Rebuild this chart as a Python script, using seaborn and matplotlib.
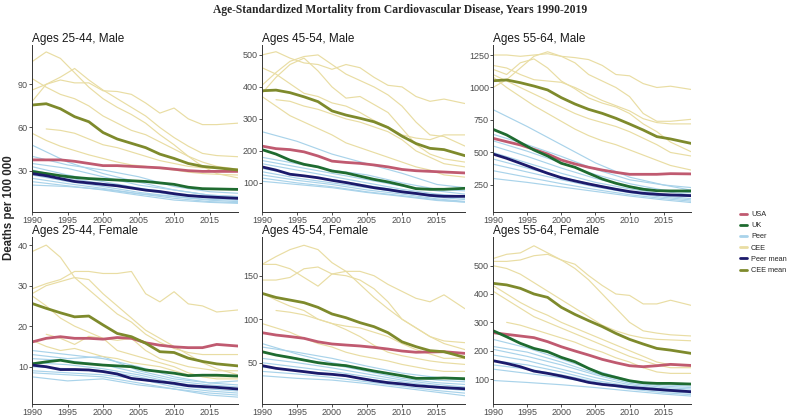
import numpy as np
import pandas as pd
import matplotlib
matplotlib.use("Agg")
import matplotlib.pyplot as plt
from matplotlib.lines import Line2D
import seaborn as sns

# ---------------- data ----------------
YRS = [1990, 1992, 1994, 1996, 1998, 2000, 2002, 2004, 2006, 2008, 2010, 2012, 2014, 2016, 2019]
YRS_P = [1990, 1995, 2000, 2005, 2010, 2015, 2019]
NA = np.nan

PANEL_TITLES = ["Ages 25-44, Male", "Ages 45-54, Male", "Ages 55-64, Male",
                "Ages 25-44, Female", "Ages 45-54, Female", "Ages 55-64, Female"]
X_TICKS = [1990, 1995, 2000, 2005, 2010, 2015]
Y_TICKS = [[30, 60, 90], [100, 200, 300, 400, 500], [250, 500, 750, 1000, 1250],
           [10, 20, 30, 40], [50, 100, 150], [100, 200, 300, 400, 500]]
SERIES_NAMES = ["USA", "UK", "Peer", "CEE", "Peer mean", "CEE mean"]

# Ages 25-44, Male
m2544_usa = [37.5, 37.5, 37.5, 36.5, 35, 33.5, 33.5, 33, 32.5, 32, 31, 30, 29.5, 29.5, 29.5]
m2544_uk = [29.5, 28, 26.5, 25.3, 24.5, 24, 23.5, 23, 22.5, 21.5, 20.5, 18.5, 17.5, 17.3, 17]
m2544_peer_mean = [28, 26.5, 24.5, 22.5, 21.5, 20.5, 19.5, 18, 16.5, 15.5, 14, 12.7, 12, 11.5, 10.8]
m2544_cee_mean = [75.6, 76.5, 73, 67.5, 64, 56.5, 52, 49, 46, 41.5, 38.5, 35, 33, 32, 30.5]
m2544_cee = [
    [105.7, 112.5, 108, 98, 88, 80, 74, 69, 63, 55, 48, 40, 33, 28, 25],
    [94, 88, 83, 80, 75, 68, 63, 58, 55, 50, 45, 40, 36, 33, 31],
    [86, 90, 95, 101, 93, 86, 80, 74, 68, 60, 53, 47, 42, 40.5, 39.7],
    [78, 90, 93, 91, 91, 85.5, 85, 83, 77, 70, 73.5, 66, 62, 62, 63],
    [NA, 59, 58, 56, 52, 48, 46, 43, 40, 37, 35, 33, 32, 31.5, 31],
    [56, 51, 47, 44, 41, 38.5, 36, 34, 33, 31.5, 30.5, 29, 28, 27.5, 27],
]
m2544_peer = [
    [47.8, 36, 28, 22, 16.6, 13, 12],
    [40, 34, 30.5, 25.8, 19, 15.4, 14.3],
    [35, 31.6, 25.8, 20, 16.6, 13, 12],
    [32.8, 27, 22.4, 18, 14.3, 12, 10.8],
    [30.5, 25, 21, 17, 13, 11, 9.6],
    [27, 22.5, 19, 15, 12, 9.5, 8.5],
    [24.7, 21, 17.7, 14, 10.8, 8.5, 7.8],
    [22.4, 19.5, 16.6, 13, 9.6, 8, 7.3],
    [20, 19, 17, 14, 12, 10, 9.6],
]

# Ages 45-54, Male
m4554_usa = [215, 207, 204, 197, 184, 168, 164, 161, 156, 150, 142, 138, 136, 134, 131]
m4554_uk = [204, 190, 171, 158, 150, 137, 131, 121, 111, 103, 93, 82, 80, 80, 83]
m4554_peer_mean = [150, 140, 127, 122, 116, 108, 101, 93, 85, 79, 72, 67, 61, 58, 58]
m4554_cee_mean = [388, 390, 382, 369, 354, 325, 312, 302, 291, 273, 246, 223, 208, 204, 185]
m4554_cee = [
    [500, 510, 490, 475, 470, 455, 470, 460, 430, 405, 400, 370, 355, 362, 348],
    [405, 445, 480, 495, 500, 470, 440, 420, 400, 375, 340, 290, 250, 245, 215],
    [460, 440, 410, 380, 370, 350, 340, 320, 295, 275, 250, 240, 235, 250, 250],
    [380, 430, 470, 490, 450, 400, 365, 370, 345, 320, 270, 220, 190, 175, 165],
    [NA, 360, 355, 340, 330, 315, 300, 290, 275, 260, 235, 200, 180, 160, 150],
    [370, 340, 310, 290, 270, 250, 225, 210, 195, 180, 165, 150, 140, 125, 118],
]
m4554_peer = [
    [260, 230, 190, 160, 130, 95, 85],
    [180, 160, 140, 125, 100, 80, 75],
    [170, 150, 130, 110, 90, 75, 65],
    [160, 140, 120, 100, 80, 65, 58],
    [145, 125, 110, 92, 75, 60, 52],
    [135, 115, 100, 85, 70, 55, 48],
    [125, 108, 95, 78, 65, 50, 42],
    [115, 100, 88, 72, 60, 47, 40],
    [105, 95, 85, 70, 58, 45, 40],
]

# Ages 55-64, Male
m5564_usa = [609, 583, 558, 524, 488, 442, 412, 386, 365, 347, 332, 332, 332, 337, 335]
m5564_uk = [678, 635, 576, 519, 473, 417, 386, 340, 296, 263, 237, 217, 206, 204, 204]
m5564_peer_mean = [488, 455, 417, 378, 340, 306, 281, 258, 237, 217, 199, 186, 178, 173, 168]
m5564_cee_mean = [1052, 1058, 1037, 1011, 981, 922, 873, 832, 801, 763, 719, 673, 622, 604, 570]
m5564_cee = [
    [1250, 1250, 1240, 1250, 1260, 1240, 1230, 1215, 1170, 1100, 1090, 1030, 1000, 1010, 985],
    [1000, 1060, 1150, 1240, 1275, 1240, 1190, 1100, 1050, 1000, 930, 800, 740, 740, 755],
    [1170, 1150, 1100, 1060, 1050, 1040, 1000, 950, 900, 860, 820, 760, 730, 720, 720],
    [1140, 1100, 1190, 1220, 1150, 1050, 990, 920, 880, 850, 800, 720, 660, 580, 506],
    [1100, 1050, 1000, 950, 900, 850, 800, 760, 730, 700, 660, 610, 560, 500, 473],
    [1080, 1000, 930, 860, 800, 740, 680, 630, 590, 560, 520, 480, 440, 400, 365],
]
m5564_peer = [
    [830, 700, 560, 420, 310, 250, 230],
    [640, 560, 470, 370, 290, 250, 210],
    [590, 510, 420, 330, 260, 210, 190],
    [550, 470, 380, 300, 240, 200, 175],
    [500, 420, 340, 270, 220, 180, 160],
    [450, 380, 310, 250, 200, 165, 145],
    [410, 350, 290, 235, 190, 155, 135],
    [360, 310, 260, 215, 175, 145, 125],
    [300, 270, 235, 200, 165, 135, 115],
]

# Ages 25-44, Female
f2544_usa = [16.1, 17, 17.4, 17, 17, 16.8, 17.2, 17, 15.9, 15.3, 14.9, 14.7, 14.7, 15.5, 15.1]
f2544_uk = [10.7, 11.2, 11.6, 11, 10.7, 10.4, 10.2, 10, 9.2, 8.8, 8.4, 7.8, 7.9, 7.9, 7.7]
f2544_peer_mean = [10.4, 10, 9.3, 9.3, 9.2, 8.8, 8.2, 7.1, 6.7, 6.3, 5.9, 5.3, 5.1, 4.9, 4.5]
f2544_cee_mean = [25.6, 24.4, 23.3, 22.3, 22.5, 20.3, 18.2, 17.4, 15.8, 13.7, 13.5, 12.1, 11.3, 10.7, 10.2]
f2544_cee = [
    [38.4, 40, 37, 32, 29, 26, 23, 21, 18, 16, 14.5, 13.5, 13, 13, 13],
    [29.2, 30.5, 31.5, 33.5, 33.5, 33, 33, 33.5, 28, 26, 28.5, 25.5, 25, 23.5, 24],
    [28, 30, 31, 32, 31.5, 28, 25, 22, 19, 17, 15, 13, 11, 9.5, 8],
    [27.5, 25, 22, 20, 18.5, 17, 16.5, 17, 14, 12, 11, 10, 9.5, 9, 9],
    [NA, 18, 17, 15.5, 17.5, 17, 14, 13, 12, 11, 10, 8.5, 7.5, 7, 7],
    [16.5, 15, 14, 14.5, 13.5, 12.5, 12, 11, 10.5, 10, 9, 8, 8, 7.5, 7.5],
]
f2544_peer = [
    [14, 13, 12, 10, 7.5, 6, 5.5],
    [13, 12, 12.5, 9, 7, 6, 6.5],
    [12, 11.5, 10.5, 8.5, 6.5, 5.5, 5],
    [11, 10.5, 9.5, 8, 6, 5, 4.5],
    [10, 9.5, 9, 7.5, 5.5, 4.5, 4],
    [9, 8.5, 8, 7, 5, 4, 3.5],
    [8.5, 8, 7.5, 6, 4.5, 3.5, 3],
    [7.5, 6.5, 7, 5.5, 4.5, 3, 2.5],
]

# Ages 45-54, Female
f4554_usa = [84.5, 81.8, 80, 78, 74, 71.5, 70.3, 69.2, 67.6, 65.7, 63.4, 62, 62.3, 62.6, 60.7]
f4554_uk = [62.6, 58.8, 56, 53, 50, 48, 46.6, 43.5, 40.4, 37.7, 35, 32, 32, 32.4, 31.6]
f4554_peer_mean = [46.6, 43.5, 41.6, 39.7, 37.7, 36.6, 35, 32, 29.3, 27, 25.5, 23.6, 22.4, 21.3, 20]
f4554_cee_mean = [129.7, 125, 122, 119, 113.6, 106, 101.7, 96, 91.4, 84.5, 74, 68.4, 63.8, 62.6, 56]
f4554_cee = [
    [163, 172, 180, 185, 180, 165, 155, 140, 125, 112, 100, 90, 80, 72, 65],
    [163, 163, 158, 148, 138, 152, 155, 155, 150, 140, 132, 124, 120, 128, 112],
    [145, 145, 148, 158, 160, 152, 150, 145, 135, 120, 100, 90, 80, 75, 73],
    [NA, 110, 108, 105, 100, 95, 92, 90, 85, 80, 72, 65, 60, 55, 55],
    [130, 122, 115, 110, 100, 95, 88, 80, 70, 62, 58, 55, 52, 50, 48],
    [95, 90, 85, 78, 72, 68, 62, 58, 55, 52, 48, 45, 42, 40, 40],
]
f4554_peer = [
    [72, 60, 50, 42, 35, 30, 28],
    [68, 62, 55, 46, 38, 33, 30],
    [62, 55, 48, 40, 32, 27, 25],
    [55, 50, 44, 37, 30, 25, 22],
    [50, 45, 40, 34, 28, 23, 20],
    [45, 41, 37, 31, 26, 21, 18],
    [40, 37, 33, 28, 23, 18, 15],
    [35, 32, 30, 26, 21, 16, 12],
]

# Ages 55-64, Female
f5564_usa = [263.5, 257.6, 251.8, 246, 231.8, 214, 199, 184.7, 169.4, 157.6, 147, 143.5, 147, 151.8, 148]
f5564_uk = [270.6, 249, 226, 208, 196.5, 176.5, 161, 137.6, 117.6, 105.9, 94, 87, 84.7, 84.7, 82.4]
f5564_peer_mean = [164.7, 155, 143.5, 128, 120, 110.6, 100, 88.2, 81, 76.5, 70.6, 67, 63.5, 60, 55.3]
f5564_cee_mean = [437.6, 432, 420, 400, 388, 353, 328, 306, 285, 261, 240, 223.5, 208, 202, 190.6]
f5564_cee = [
    [525, 540, 545, 570, 545, 520, 505, 465, 430, 400, 395, 365, 365, 378, 360],
    [515, 515, 520, 535, 540, 520, 490, 450, 400, 350, 300, 270, 262, 256, 252],
    [500, 490, 470, 440, 410, 380, 350, 320, 290, 270, 255, 245, 240, 238, 235],
    [430, 400, 370, 345, 325, 300, 280, 260, 240, 220, 200, 180, 160, 150, 145],
    [410, 380, 350, 320, 300, 280, 260, 240, 220, 200, 180, 165, 150, 140, 140],
    [NA, 300, 290, 275, 260, 245, 230, 210, 195, 175, 160, 140, 125, 120, 120],
]
f5564_peer = [
    [240, 210, 170, 130, 95, 80, 75],
    [215, 195, 160, 120, 90, 75, 70],
    [205, 180, 150, 115, 85, 70, 65],
    [185, 165, 135, 105, 80, 65, 60],
    [165, 150, 125, 95, 75, 60, 55],
    [150, 135, 115, 90, 70, 57, 50],
    [135, 120, 105, 85, 65, 52, 45],
    [95, 88, 80, 70, 58, 47, 40],
]

# ---------------- style ----------------
COLORS = {"USA": "#c05a70", "UK": "#1f6b30", "Peer": "#a9d3ea", "CEE": "#e9dda3",
          "Peer mean": "#1c1a6b", "CEE mean": "#7e8a2c"}

sns.set_theme(style="ticks")
plt.rcParams["font.family"] = ["Liberation Sans", "DejaVu Sans"]

fig = plt.figure(figsize=(8.0, 4.17), dpi=100)

W, H = 800.0, 417.0
cols = [(32, 238), (262, 465), (493, 691)]
rows = [(45, 212), (237, 404)]
YLIMS = [(1.3, 117.3), (9, 531), (42, 1327), (0.8, 42), (2.5, 194.5), (12, 601)]

panels = [
    (m2544_usa, m2544_uk, m2544_peer_mean, m2544_cee_mean, m2544_cee, m2544_peer),
    (m4554_usa, m4554_uk, m4554_peer_mean, m4554_cee_mean, m4554_cee, m4554_peer),
    (m5564_usa, m5564_uk, m5564_peer_mean, m5564_cee_mean, m5564_cee, m5564_peer),
    (f2544_usa, f2544_uk, f2544_peer_mean, f2544_cee_mean, f2544_cee, f2544_peer),
    (f4554_usa, f4554_uk, f4554_peer_mean, f4554_cee_mean, f4554_cee, f4554_peer),
    (f5564_usa, f5564_uk, f5564_peer_mean, f5564_cee_mean, f5564_cee, f5564_peer),
]

for i, (usa, uk, pmean, cmean, cee, peer) in enumerate(panels):
    r, c = divmod(i, 3)
    x0, x1 = cols[c]
    y0, y1 = rows[r]
    ax = fig.add_axes([x0 / W, 1 - y1 / H, (x1 - x0) / W, (y1 - y0) / H])

    # thin country lines
    for vals in peer:
        d = pd.DataFrame({"year": YRS_P, "value": vals}).dropna()
        sns.lineplot(data=d, x="year", y="value", ax=ax, color=COLORS["Peer"], lw=0.85)
    for vals in cee:
        d = pd.DataFrame({"year": YRS, "value": vals}).dropna()
        sns.lineplot(data=d, x="year", y="value", ax=ax, color=COLORS["CEE"], lw=0.85)

    # main series
    for name, vals in [("USA", usa), ("UK", uk), ("Peer mean", pmean), ("CEE mean", cmean)]:
        d = pd.DataFrame({"year": YRS, "value": vals})
        sns.lineplot(data=d, x="year", y="value", ax=ax, color=COLORS[name], lw=2.0)

    ax.set_xlim(1990, 2019)
    ax.set_ylim(*YLIMS[i])
    ax.set_xticks(X_TICKS)
    ax.set_yticks(Y_TICKS[i])
    ax.set_xlabel("")
    ax.set_ylabel("")
    ax.tick_params(axis="both", labelsize=6.5, colors="#333333", labelcolor="#4d4d4d",
                   length=2, width=0.6, pad=1)
    for s in ["top", "right"]:
        ax.spines[s].set_visible(False)
    for s in ["left", "bottom"]:
        ax.spines[s].set_color("#333333")
        ax.spines[s].set_linewidth(0.7)
    ax.set_title(PANEL_TITLES[i], loc="left", fontsize=8.5, color="#1a1a1a", pad=2)
    ax.set_facecolor("white")

fig.text(400 / W, 1 - 10 / H,
         "Age-Standardized Mortality from Cardiovascular Disease, Years 1990-2019",
         ha="center", va="center", fontsize=8.4, fontweight="bold",
         family=["Liberation Serif", "DejaVu Serif"])
fig.text(9 / W, 1 - 208 / H, "Deaths per 100 000", rotation=90, ha="center", va="center",
         fontsize=8.3, fontweight="bold")

handles = [Line2D([0], [0], color=COLORS[n], lw=2.0) for n in SERIES_NAMES]
fig.legend(handles, SERIES_NAMES, loc="upper left", bbox_to_anchor=(737 / W, 1 - 208 / H),
           frameon=False, fontsize=5.3, handlelength=1.0, handletextpad=0.5,
           labelspacing=0.55, borderaxespad=0)

fig.savefig("out.png", dpi=100, facecolor="white")
